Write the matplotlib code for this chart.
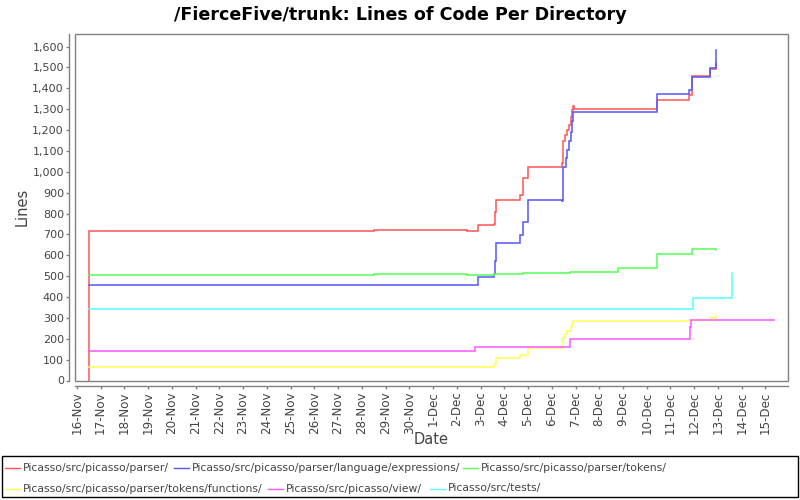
import matplotlib
matplotlib.use("Agg")
import matplotlib.pyplot as plt
import matplotlib.dates as mdates
import numpy as np
from matplotlib.ticker import FuncFormatter, MultipleLocator
from matplotlib.lines import Line2D
from matplotlib.patches import Rectangle

# ---------------- data (times = days after 16-Nov, 00:00) ----------------
start_date = "2007-11-16T00:00"

series_names = [
    "Picasso/src/picasso/parser/",
    "Picasso/src/picasso/parser/language/expressions/",
    "Picasso/src/picasso/parser/tokens/",
    "Picasso/src/picasso/parser/tokens/functions/",
    "Picasso/src/picasso/view/",
    "Picasso/src/tests/",
]
series_colors = ["#FF5555", "#5555FF", "#55FF55", "#FFFF55", "#FF55FF", "#55FFFF"]

parser_days = [0.5, 0.5, 12.53, 16.44, 16.91, 17.55, 17.59, 17.67, 18.68, 18.80, 19.01,
               20.45, 20.49, 20.57, 20.66, 20.73, 20.81, 20.87, 20.91, 20.94,
               24.45, 25.80, 25.92, 26.65, 26.93]
parser_lines = [0, 716, 721, 716, 743, 748, 809, 863, 887, 969, 1023,
                1040, 1147, 1175, 1200, 1225, 1264, 1296, 1315, 1299,
                1342, 1366, 1457, 1491, 1520]

expr_days = [0.5, 16.91, 17.55, 17.59, 17.67, 18.68, 18.80, 19.01, 20.45, 20.49, 20.59,
             20.66, 20.74, 20.81, 20.87, 20.91, 24.45, 25.80, 25.92, 26.65, 26.93]
expr_lines = [456, 496, 510, 574, 657, 696, 759, 863, 861, 1023, 1066,
              1104, 1147, 1189, 1242, 1286, 1372, 1390, 1452, 1496, 1583]

tokens_days = [0.5, 12.53, 16.44, 17.55, 18.80, 20.78, 22.81, 24.45, 25.92, 26.93]
tokens_lines = [504, 509, 504, 509, 513, 518, 537, 605, 628, 624]

functions_days = [0.5, 17.58, 17.67, 18.68, 19.01, 20.45, 20.49, 20.57, 20.63,
                  20.81, 20.87, 20.91, 25.87, 26.66, 26.93]
functions_lines = [64, 78, 108, 121, 154, 159, 205, 221, 236,
                   256, 271, 284, 290, 298, 308]

view_days = [0.5, 16.78, 20.78, 25.84, 25.88, 26.66, 29.38]
view_lines = [140, 159, 199, 255, 290, 288, 288]

tests_days = [0.5, 25.96, 27.58]
tests_lines = [341, 394, 514]

all_days = [parser_days, expr_days, tokens_days, functions_days, view_days, tests_days]
all_lines = [parser_lines, expr_lines, tokens_lines, functions_lines, view_lines, tests_lines]

title_text = "/FierceFive/trunk: Lines of Code Per Directory"
x_label = "Date"
y_label = "Lines"

# ---------------- drawing ----------------
W, H = 800, 500
fig = plt.figure(figsize=(W / 100, H / 100), dpi=100)
fig.patch.set_facecolor("white")

L, R, T, B = 75, 788, 34, 380.5
ax = fig.add_axes([L / W, 1 - B / H, (R - L) / W, (B - T) / H])

t0 = np.datetime64(start_date)


def to_dt(days):
    return t0 + (np.asarray(days) * 86400).round().astype("timedelta64[s]")


for d, v, c in zip(all_days, all_lines, series_colors):
    ax.step(to_dt(d), v, where="post", color=c, lw=1.1, solid_joinstyle="miter")

ax.set_xlim(to_dt(-0.08), to_dt(29.95))
ax.set_ylim(0, 1660)

gray = "#808080"
txtc = "#444444"
for s in ("top", "right"):
    ax.spines[s].set_visible(False)
for s in ("left", "bottom"):
    ax.spines[s].set_position(("outward", 4))
    ax.spines[s].set_color(gray)
    ax.spines[s].set_linewidth(1)
ax.add_patch(Rectangle((0, 0), 1, 1, transform=ax.transAxes, fill=False,
                       edgecolor=gray, lw=1, clip_on=False, zorder=5))

ax.xaxis.set_major_locator(mdates.DayLocator())
ax.xaxis.set_major_formatter(FuncFormatter(
    lambda x, p: f"{mdates.num2date(x).day}-{mdates.num2date(x).strftime('%b')}"))
ax.yaxis.set_major_locator(MultipleLocator(100))
ax.yaxis.set_major_formatter(FuncFormatter(lambda y, p: f"{int(y):,}"))
ax.tick_params(axis="both", direction="out", length=2, width=1, color=gray,
               labelcolor=txtc, labelsize=8)
ax.tick_params(axis="x", labelrotation=90, pad=2, labelsize=8.6)
ax.tick_params(axis="y", pad=2)

fig.text(400 / W, 1 - 15 / H, title_text, ha="center", va="center",
         fontsize=12.6, fontweight="bold", color="black")
fig.text((L + R) / 2 / W, 1 - 440 / H, x_label, ha="center", va="center",
         fontsize=10.5, color=txtc)
fig.text(22 / W, 1 - 207 / H, y_label, ha="center", va="center",
         fontsize=10.5, color=txtc, rotation=90)

# legend box
fig.add_artist(Rectangle((2 / W, 1 - 497 / H), 796 / W, 41 / H,
                         transform=fig.transFigure, fill=False,
                         edgecolor="black", lw=1))
legend_slots = [(5, 468), (174, 468), (463, 468), (5, 488.5), (268, 488.5), (430, 488.5)]
for name, c, (x, yp) in zip(series_names, series_colors, legend_slots):
    y = 1 - yp / H
    fig.add_artist(Line2D([x / W, (x + 15) / W], [y, y], transform=fig.transFigure,
                          color=c, lw=1))
    fig.text((x + 18) / W, y, name, fontsize=7.8, color=txtc, va="center", ha="left")

fig.savefig("out.png", dpi=100)
